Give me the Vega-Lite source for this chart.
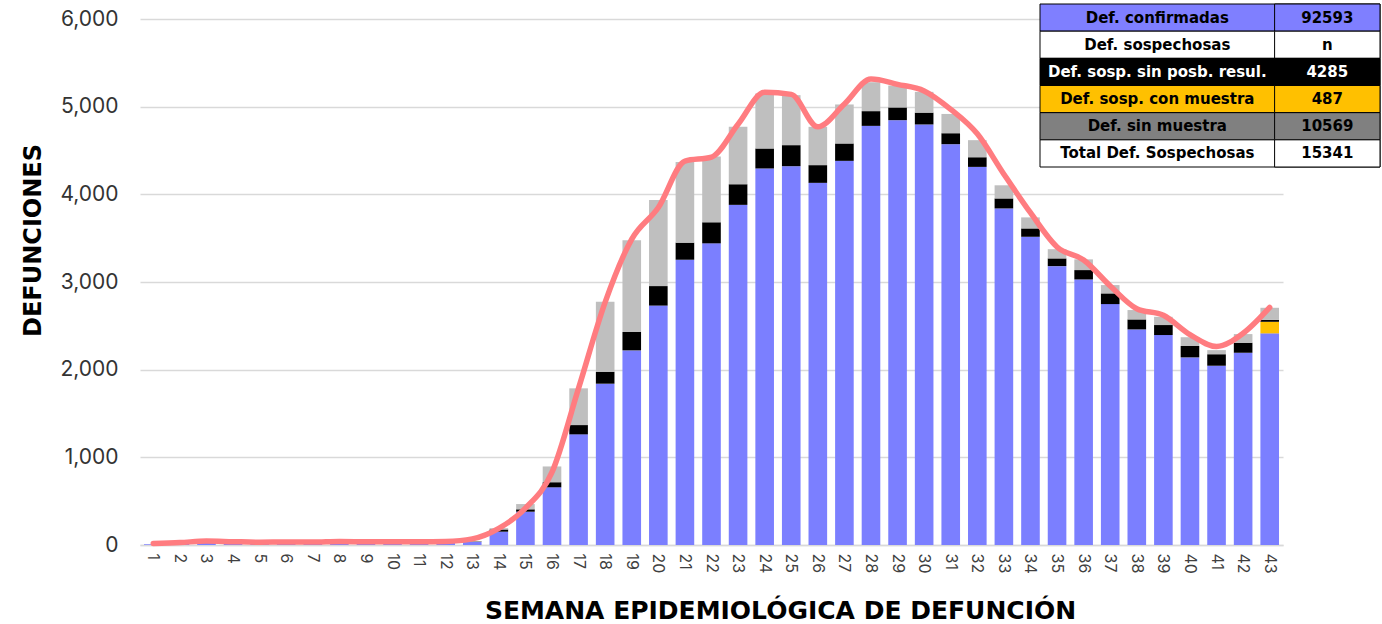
{
  "$schema": "https://vega.github.io/schema/vega-lite/v6.json",
  "width": 1143,
  "height": 526,
  "autosize": {"type": "none"},
  "padding": {"left": 140, "top": 19, "right": 99, "bottom": 79},
  "background": "white",
  "config": {"font": "Inter", "view": {"stroke": null}},
  "datasets": {
    "tipos": [
      {"tipo": "Def. confirmadas", "orden": 1},
      {"tipo": "Def. sosp. con muestra", "orden": 2},
      {"tipo": "Def. sosp. sin posb. resul.", "orden": 3},
      {"tipo": "Def. sin muestra", "orden": 4}
    ],
    "barras": [
      {"semana": 1, "tipo": "Def. confirmadas", "defunciones": 8},
      {"semana": 2, "tipo": "Def. confirmadas", "defunciones": 22},
      {"semana": 3, "tipo": "Def. confirmadas", "defunciones": 35},
      {"semana": 4, "tipo": "Def. confirmadas", "defunciones": 28},
      {"semana": 5, "tipo": "Def. confirmadas", "defunciones": 25},
      {"semana": 6, "tipo": "Def. confirmadas", "defunciones": 27},
      {"semana": 7, "tipo": "Def. confirmadas", "defunciones": 24},
      {"semana": 8, "tipo": "Def. confirmadas", "defunciones": 30},
      {"semana": 9, "tipo": "Def. confirmadas", "defunciones": 28},
      {"semana": 10, "tipo": "Def. confirmadas", "defunciones": 27},
      {"semana": 11, "tipo": "Def. confirmadas", "defunciones": 28},
      {"semana": 12, "tipo": "Def. confirmadas", "defunciones": 32},
      {"semana": 13, "tipo": "Def. confirmadas", "defunciones": 35},
      {"semana": 13, "tipo": "Def. sosp. sin posb. resul.", "defunciones": 5},
      {"semana": 13, "tipo": "Def. sin muestra", "defunciones": 5},
      {"semana": 14, "tipo": "Def. confirmadas", "defunciones": 152},
      {"semana": 14, "tipo": "Def. sosp. sin posb. resul.", "defunciones": 25},
      {"semana": 14, "tipo": "Def. sin muestra", "defunciones": 15},
      {"semana": 15, "tipo": "Def. confirmadas", "defunciones": 380},
      {"semana": 15, "tipo": "Def. sosp. sin posb. resul.", "defunciones": 27},
      {"semana": 15, "tipo": "Def. sin muestra", "defunciones": 60},
      {"semana": 16, "tipo": "Def. confirmadas", "defunciones": 658},
      {"semana": 16, "tipo": "Def. sosp. sin posb. resul.", "defunciones": 58},
      {"semana": 16, "tipo": "Def. sin muestra", "defunciones": 180},
      {"semana": 17, "tipo": "Def. confirmadas", "defunciones": 1262},
      {"semana": 17, "tipo": "Def. sosp. sin posb. resul.", "defunciones": 106},
      {"semana": 17, "tipo": "Def. sin muestra", "defunciones": 419},
      {"semana": 18, "tipo": "Def. confirmadas", "defunciones": 1840},
      {"semana": 18, "tipo": "Def. sosp. sin posb. resul.", "defunciones": 136},
      {"semana": 18, "tipo": "Def. sin muestra", "defunciones": 798},
      {"semana": 19, "tipo": "Def. confirmadas", "defunciones": 2220},
      {"semana": 19, "tipo": "Def. sosp. sin posb. resul.", "defunciones": 210},
      {"semana": 19, "tipo": "Def. sin muestra", "defunciones": 1045},
      {"semana": 20, "tipo": "Def. confirmadas", "defunciones": 2731},
      {"semana": 20, "tipo": "Def. sosp. sin posb. resul.", "defunciones": 222},
      {"semana": 20, "tipo": "Def. sin muestra", "defunciones": 981},
      {"semana": 21, "tipo": "Def. confirmadas", "defunciones": 3254},
      {"semana": 21, "tipo": "Def. sosp. sin posb. resul.", "defunciones": 195},
      {"semana": 21, "tipo": "Def. sin muestra", "defunciones": 920},
      {"semana": 22, "tipo": "Def. confirmadas", "defunciones": 3441},
      {"semana": 22, "tipo": "Def. sosp. sin posb. resul.", "defunciones": 240},
      {"semana": 22, "tipo": "Def. sin muestra", "defunciones": 750},
      {"semana": 23, "tipo": "Def. confirmadas", "defunciones": 3880},
      {"semana": 23, "tipo": "Def. sosp. sin posb. resul.", "defunciones": 235},
      {"semana": 23, "tipo": "Def. sin muestra", "defunciones": 655},
      {"semana": 24, "tipo": "Def. confirmadas", "defunciones": 4295},
      {"semana": 24, "tipo": "Def. sosp. sin posb. resul.", "defunciones": 228},
      {"semana": 24, "tipo": "Def. sin muestra", "defunciones": 627},
      {"semana": 25, "tipo": "Def. confirmadas", "defunciones": 4321},
      {"semana": 25, "tipo": "Def. sosp. sin posb. resul.", "defunciones": 240},
      {"semana": 25, "tipo": "Def. sin muestra", "defunciones": 570},
      {"semana": 26, "tipo": "Def. confirmadas", "defunciones": 4131},
      {"semana": 26, "tipo": "Def. sosp. sin posb. resul.", "defunciones": 202},
      {"semana": 26, "tipo": "Def. sin muestra", "defunciones": 437},
      {"semana": 27, "tipo": "Def. confirmadas", "defunciones": 4382},
      {"semana": 27, "tipo": "Def. sosp. sin posb. resul.", "defunciones": 198},
      {"semana": 27, "tipo": "Def. sin muestra", "defunciones": 445},
      {"semana": 28, "tipo": "Def. confirmadas", "defunciones": 4781},
      {"semana": 28, "tipo": "Def. sosp. sin posb. resul.", "defunciones": 168},
      {"semana": 28, "tipo": "Def. sin muestra", "defunciones": 330},
      {"semana": 29, "tipo": "Def. confirmadas", "defunciones": 4846},
      {"semana": 29, "tipo": "Def. sosp. sin posb. resul.", "defunciones": 145},
      {"semana": 29, "tipo": "Def. sin muestra", "defunciones": 250},
      {"semana": 30, "tipo": "Def. confirmadas", "defunciones": 4797},
      {"semana": 30, "tipo": "Def. sosp. sin posb. resul.", "defunciones": 135},
      {"semana": 30, "tipo": "Def. sin muestra", "defunciones": 237},
      {"semana": 31, "tipo": "Def. confirmadas", "defunciones": 4572},
      {"semana": 31, "tipo": "Def. sosp. sin posb. resul.", "defunciones": 125},
      {"semana": 31, "tipo": "Def. sin muestra", "defunciones": 220},
      {"semana": 32, "tipo": "Def. confirmadas", "defunciones": 4313},
      {"semana": 32, "tipo": "Def. sosp. sin posb. resul.", "defunciones": 110},
      {"semana": 32, "tipo": "Def. sin muestra", "defunciones": 195},
      {"semana": 33, "tipo": "Def. confirmadas", "defunciones": 3839},
      {"semana": 33, "tipo": "Def. sosp. sin posb. resul.", "defunciones": 114},
      {"semana": 33, "tipo": "Def. sin muestra", "defunciones": 150},
      {"semana": 34, "tipo": "Def. confirmadas", "defunciones": 3516},
      {"semana": 34, "tipo": "Def. sosp. sin posb. resul.", "defunciones": 95},
      {"semana": 34, "tipo": "Def. sin muestra", "defunciones": 126},
      {"semana": 35, "tipo": "Def. confirmadas", "defunciones": 3181},
      {"semana": 35, "tipo": "Def. sosp. sin posb. resul.", "defunciones": 88},
      {"semana": 35, "tipo": "Def. sin muestra", "defunciones": 105},
      {"semana": 36, "tipo": "Def. confirmadas", "defunciones": 3029},
      {"semana": 36, "tipo": "Def. sosp. sin posb. resul.", "defunciones": 107},
      {"semana": 36, "tipo": "Def. sin muestra", "defunciones": 122},
      {"semana": 37, "tipo": "Def. confirmadas", "defunciones": 2748},
      {"semana": 37, "tipo": "Def. sosp. sin posb. resul.", "defunciones": 122},
      {"semana": 37, "tipo": "Def. sin muestra", "defunciones": 95},
      {"semana": 38, "tipo": "Def. confirmadas", "defunciones": 2459},
      {"semana": 38, "tipo": "Def. sosp. sin posb. resul.", "defunciones": 114},
      {"semana": 38, "tipo": "Def. sin muestra", "defunciones": 107},
      {"semana": 39, "tipo": "Def. confirmadas", "defunciones": 2395},
      {"semana": 39, "tipo": "Def. sosp. sin posb. resul.", "defunciones": 114},
      {"semana": 39, "tipo": "Def. sin muestra", "defunciones": 94},
      {"semana": 40, "tipo": "Def. confirmadas", "defunciones": 2140},
      {"semana": 40, "tipo": "Def. sosp. sin posb. resul.", "defunciones": 130},
      {"semana": 40, "tipo": "Def. sin muestra", "defunciones": 100},
      {"semana": 41, "tipo": "Def. confirmadas", "defunciones": 2045},
      {"semana": 41, "tipo": "Def. sosp. sin posb. resul.", "defunciones": 131},
      {"semana": 41, "tipo": "Def. sin muestra", "defunciones": 47},
      {"semana": 42, "tipo": "Def. confirmadas", "defunciones": 2193},
      {"semana": 42, "tipo": "Def. sosp. sin posb. resul.", "defunciones": 114},
      {"semana": 42, "tipo": "Def. sin muestra", "defunciones": 99},
      {"semana": 43, "tipo": "Def. confirmadas", "defunciones": 2414},
      {"semana": 43, "tipo": "Def. sosp. con muestra", "defunciones": 132},
      {"semana": 43, "tipo": "Def. sosp. sin posb. resul.", "defunciones": 22},
      {"semana": 43, "tipo": "Def. sin muestra", "defunciones": 138}
    ],
    "linea": [
      {"semana": 1, "defunciones": 18},
      {"semana": 2, "defunciones": 28},
      {"semana": 3, "defunciones": 45},
      {"semana": 4, "defunciones": 38},
      {"semana": 5, "defunciones": 32},
      {"semana": 6, "defunciones": 35},
      {"semana": 7, "defunciones": 33},
      {"semana": 8, "defunciones": 40},
      {"semana": 9, "defunciones": 37},
      {"semana": 10, "defunciones": 36},
      {"semana": 11, "defunciones": 36},
      {"semana": 12, "defunciones": 40},
      {"semana": 13, "defunciones": 70},
      {"semana": 14, "defunciones": 190},
      {"semana": 15, "defunciones": 420},
      {"semana": 16, "defunciones": 830},
      {"semana": 17, "defunciones": 1790},
      {"semana": 18, "defunciones": 2770},
      {"semana": 19, "defunciones": 3490},
      {"semana": 20, "defunciones": 3850},
      {"semana": 21, "defunciones": 4380},
      {"semana": 22, "defunciones": 4425},
      {"semana": 23, "defunciones": 4800},
      {"semana": 24, "defunciones": 5165},
      {"semana": 25, "defunciones": 5140},
      {"semana": 26, "defunciones": 4770},
      {"semana": 27, "defunciones": 5030},
      {"semana": 28, "defunciones": 5315},
      {"semana": 29, "defunciones": 5255},
      {"semana": 30, "defunciones": 5180},
      {"semana": 31, "defunciones": 4970},
      {"semana": 32, "defunciones": 4690},
      {"semana": 33, "defunciones": 4230},
      {"semana": 34, "defunciones": 3790},
      {"semana": 35, "defunciones": 3400},
      {"semana": 36, "defunciones": 3250},
      {"semana": 37, "defunciones": 2955},
      {"semana": 38, "defunciones": 2695},
      {"semana": 39, "defunciones": 2620},
      {"semana": 40, "defunciones": 2400},
      {"semana": 41, "defunciones": 2265},
      {"semana": 42, "defunciones": 2415},
      {"semana": 43, "defunciones": 2710}
    ],
    "tabla": [
      {"fila": 1, "concepto": "Def. confirmadas", "valor": "92593"},
      {"fila": 2, "concepto": "Def. sospechosas", "valor": "n"},
      {"fila": 3, "concepto": "Def. sosp. sin posb. resul.", "valor": "4285"},
      {"fila": 4, "concepto": "Def. sosp. con  muestra", "valor": "487"},
      {"fila": 5, "concepto": "Def. sin muestra", "valor": "10569"},
      {"fila": 6, "concepto": "Total Def. Sospechosas", "valor": "15341"}
    ]
  },
  "layer": [
    {
      "encoding": {
        "x": {
          "field": "semana",
          "type": "ordinal",
          "scale": {"paddingInner": 0.3, "paddingOuter": 0.15},
          "axis": {
            "title": "SEMANA EPIDEMIOLÓGICA DE DEFUNCIÓN",
            "titleFont": "DejaVu Sans",
            "titleFontSize": 25,
            "titleFontWeight": "bold",
            "titleColor": "#000000",
            "titleX": 640,
            "titleY": 65,
            "titleAlign": "center",
            "titleBaseline": "middle",
            "labelAngle": 90,
            "labelFontSize": 16,
            "labelColor": "#404040",
            "labelPadding": 8,
            "ticks": false,
            "domain": true,
            "domainColor": "#D9D9D9",
            "domainWidth": 1.5
          }
        },
        "y": {
          "field": "defunciones",
          "type": "quantitative",
          "scale": {"domain": [0, 6000], "nice": false},
          "axis": {
            "values": [0, 1000, 2000, 3000, 4000, 5000, 6000],
            "format": ",d",
            "title": "DEFUNCIONES",
            "titleFont": "DejaVu Sans",
            "titleFontSize": 24,
            "titleFontWeight": "bold",
            "titleColor": "#000000",
            "titleX": -107,
            "titleY": 221,
            "titleAngle": 270,
            "titleAlign": "center",
            "titleBaseline": "middle",
            "labelFontSize": 21,
            "labelColor": "#333333",
            "labelPadding": 22,
            "ticks": false,
            "domain": false,
            "grid": true,
            "gridColor": "#D9D9D9",
            "gridWidth": 1.5
          }
        }
      },
      "layer": [
        {
          "data": {"name": "barras"},
          "transform": [
            {"lookup": "tipo", "from": {"data": {"name": "tipos"}, "key": "tipo", "fields": ["orden"]}}
          ],
          "mark": {"type": "bar"},
          "encoding": {
            "color": {
              "field": "tipo",
              "type": "nominal",
              "scale": {
                "domain": ["Def. confirmadas", "Def. sosp. con muestra", "Def. sosp. sin posb. resul.", "Def. sin muestra"],
                "range": ["#7B7FFF", "#FFC000", "#000000", "#BFBFBF"]
              },
              "legend": null
            },
            "order": {"field": "orden", "type": "quantitative", "sort": "ascending"}
          }
        },
        {
          "data": {"name": "linea"},
          "mark": {"type": "line", "color": "#FF7C80", "strokeWidth": 5.5, "interpolate": "monotone", "strokeCap": "round"}
        }
      ]
    },
    {
      "data": {"name": "tabla"},
      "encoding": {
        "y": {
          "field": "fila",
          "type": "ordinal",
          "scale": {"range": [-15, 148], "paddingInner": 0, "paddingOuter": 0},
          "axis": null
        }
      },
      "layer": [
        {
          "mark": {"type": "rect", "stroke": "#000000", "strokeWidth": 1},
          "encoding": {
            "x": {"datum": 0, "type": "quantitative", "scale": {"domain": [0, 1], "range": [900, 1240]}, "axis": null},
            "x2": {"datum": 1},
            "fill": {
              "field": "fila",
              "type": "ordinal",
              "scale": {"domain": [1, 2, 3, 4, 5, 6], "range": ["#7F7FFF", "#FFFFFF", "#000000", "#FFC000", "#808080", "#FFFFFF"]},
              "legend": null
            }
          }
        },
        {
          "mark": {"type": "rect", "stroke": "#000000", "strokeWidth": 1},
          "encoding": {
            "x": {"datum": 0.69, "type": "quantitative"},
            "x2": {"datum": 1},
            "fill": {"field": "fila", "type": "ordinal", "legend": null}
          }
        },
        {
          "mark": {"type": "text", "font": "DejaVu Sans", "fontSize": 15, "fontWeight": "bold"},
          "encoding": {
            "x": {"datum": 0.345, "type": "quantitative"},
            "text": {"field": "concepto"},
            "color": {
              "field": "fila",
              "type": "ordinal",
              "scale": {"domain": [1, 2, 3, 4, 5, 6], "range": ["#000000", "#000000", "#FFFFFF", "#000000", "#000000", "#000000"]},
              "legend": null
            }
          }
        },
        {
          "mark": {"type": "text", "font": "DejaVu Sans", "fontSize": 15, "fontWeight": "bold"},
          "encoding": {
            "x": {"datum": 0.845, "type": "quantitative"},
            "text": {"field": "valor"},
            "color": {"field": "fila", "type": "ordinal", "legend": null}
          }
        }
      ]
    }
  ],
  "resolve": {"scale": {"x": "independent", "y": "independent", "color": "independent", "fill": "independent"}}
}
